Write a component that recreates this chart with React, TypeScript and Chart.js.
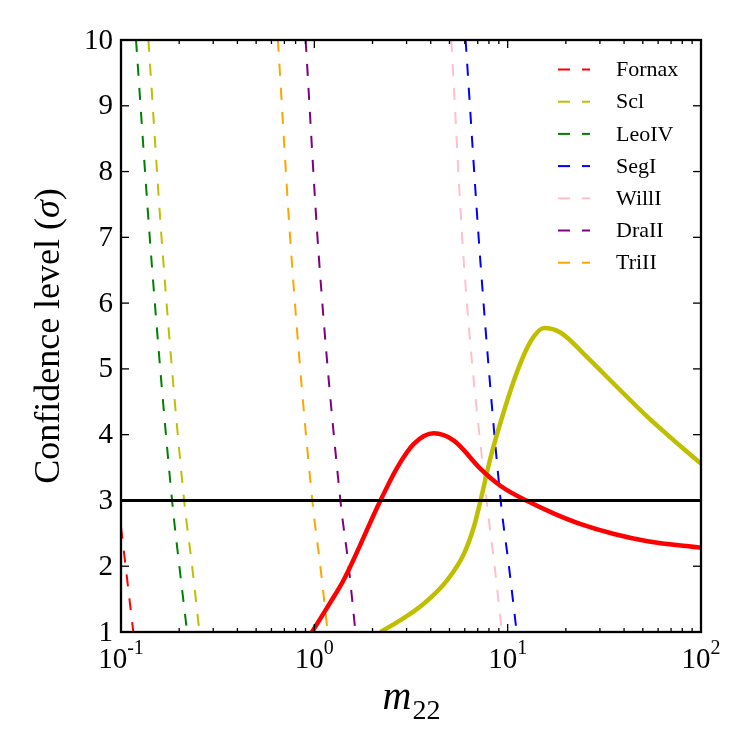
import { useEffect, useRef } from "react";
import { Chart, registerables } from "chart.js";

Chart.register(...registerables);

// Dashed bounds: m22 at which each galaxy reaches a given confidence level (sigma)
const fornaxDashX = [0.1, 0.1158];
const fornaxDashY = [2.6, 1.0];
const sclDashX = [0.1386, 0.1645, 0.2121, 0.2333, 0.2545];
const sclDashY = [10, 6.74, 3, 2, 1];
const leoIVDashX = [0.1196, 0.143, 0.1837, 0.2004, 0.2198];
const leoIVDashY = [10, 6.74, 3, 2, 1];
const segIDashX = [6.06, 7.24, 9.2, 10.15, 11.13];
const segIDashY = [10, 6.6, 3, 2, 1];
const willIDashX = [5.11, 5.94, 7.78, 8.56, 9.34];
const willIDashY = [10, 6.6, 3, 2, 1];
const draIIDashX = [0.9015, 1.053, 1.364, 1.505, 1.632];
const draIIDashY = [10, 6.74, 3, 2, 1];
const triIIDashX = [0.648, 0.76, 0.976, 1.074, 1.172];
const triIIDashY = [10, 6.74, 3, 2, 1];

// Solid curves for Fornax and Sculptor
const fornaxX = [0.973, 1.21, 1.418, 2.198, 2.683, 3.27, 4.15, 5.27, 7.24, 9.2, 12.65, 17.38, 23.9, 35.5, 52.9, 100];
const fornaxY = [1.0, 1.45, 1.79, 3.0, 3.5, 3.86, 4.02, 3.91, 3.48, 3.22, 2.99, 2.8, 2.64, 2.49, 2.38, 2.28];
const sclX = [2.198, 2.79, 3.68, 4.87, 5.94, 6.69, 7.24, 8.17, 9.57, 11.23, 13.16, 15.42, 18.82, 25.9, 35.5, 52.9, 78.7, 100];
const sclY = [1.0, 1.18, 1.43, 1.79, 2.19, 2.6, 3.0, 3.66, 4.36, 4.97, 5.42, 5.62, 5.55, 5.17, 4.77, 4.27, 3.82, 3.56];

// 3-sigma reference line
const thresholdX = [0.1, 100];
const thresholdY = [3, 3];

const xMajorTicks = [0.1, 1, 10, 100];
const xTickExponents = ["-1", "0", "1", "2"];
const yTicks = [1, 2, 3, 4, 5, 6, 7, 8, 9, 10];

const SERIF = '"Liberation Serif", "Times New Roman", serif';

const pts = (xs: number[], ys: number[]) => xs.map((x, i) => ({ x, y: ys[i] }));

const dashed = (label: string, color: string, xs: number[], ys: number[]) => ({
  label,
  data: pts(xs, ys),
  borderColor: color,
  borderWidth: 2,
  borderDash: [12, 12],
  pointRadius: 0,
  cubicInterpolationMode: "monotone" as const,
  order: 3,
});

const solid = (color: string, xs: number[], ys: number[], width: number, order: number) => ({
  label: "",
  data: pts(xs, ys),
  borderColor: color,
  borderWidth: width,
  pointRadius: 0,
  cubicInterpolationMode: "monotone" as const,
  order,
});

// Frame, inward ticks, tick labels, axis titles and legend
const framePlugin = {
  id: "frame",
  afterDatasetsDraw(chart: any) {
    const { ctx, chartArea: a, scales } = chart;
    const xs = scales.x;
    const ys = scales.y;
    ctx.save();
    ctx.strokeStyle = "#000";
    ctx.fillStyle = "#000";

    // ticks
    ctx.lineWidth = 1.3;
    const majorLen = 8;
    const minorLen = 4;
    const tick = (x1: number, y1: number, x2: number, y2: number) => {
      ctx.beginPath();
      ctx.moveTo(x1, y1);
      ctx.lineTo(x2, y2);
      ctx.stroke();
    };
    for (let e = -1; e <= 2; e++) {
      for (let m = 1; m <= 9; m++) {
        const v = m * Math.pow(10, e);
        if (v < 0.1 - 1e-9 || v > 100 + 1e-9) continue;
        const px = xs.getPixelForValue(v);
        const len = m === 1 ? majorLen : minorLen;
        tick(px, a.bottom, px, a.bottom - len);
        tick(px, a.top, px, a.top + len);
      }
    }
    for (const v of yTicks) {
      const py = ys.getPixelForValue(v);
      tick(a.left, py, a.left + majorLen, py);
      tick(a.right, py, a.right - majorLen, py);
    }

    // spines
    ctx.lineWidth = 2.3;
    ctx.strokeRect(a.left, a.top, a.right - a.left, a.bottom - a.top);

    // y tick labels
    ctx.font = `29px ${SERIF}`;
    ctx.textAlign = "right";
    ctx.textBaseline = "middle";
    for (const v of yTicks) {
      ctx.fillText(String(v), a.left - 8, ys.getPixelForValue(v) + 1);
    }

    // x tick labels as powers of ten
    ctx.textBaseline = "alphabetic";
    ctx.textAlign = "left";
    xMajorTicks.forEach((v, i) => {
      const px = xs.getPixelForValue(v);
      ctx.font = `29px ${SERIF}`;
      const wBase = ctx.measureText("10").width;
      ctx.font = `20px ${SERIF}`;
      const wExp = ctx.measureText(xTickExponents[i]).width;
      const start = px - (wBase + wExp) / 2;
      ctx.font = `29px ${SERIF}`;
      ctx.fillText("10", start, a.bottom + 36);
      ctx.font = `20px ${SERIF}`;
      ctx.fillText(xTickExponents[i], start + wBase, a.bottom + 22);
    });

    // x axis title: m_22
    {
      ctx.font = `italic 40px ${SERIF}`;
      const wm = ctx.measureText("m").width;
      ctx.font = `28px ${SERIF}`;
      const ws = ctx.measureText("22").width;
      const cx = (a.left + a.right) / 2;
      const start = cx - (wm + ws) / 2;
      ctx.font = `italic 40px ${SERIF}`;
      ctx.fillText("m", start, a.bottom + 77);
      ctx.font = `28px ${SERIF}`;
      ctx.fillText("22", start + wm + 1, a.bottom + 87);
    }

    // y axis title: Confidence level (sigma)
    {
      ctx.save();
      const cy = (a.top + a.bottom) / 2;
      ctx.translate(50, cy);
      ctx.rotate(-Math.PI / 2);
      const parts = [
        { t: "Confidence level ", f: `36px ${SERIF}` },
        { t: "(", f: `36px ${SERIF}` },
        { t: "\u03C3", f: `italic 36px ${SERIF}` },
        { t: ")", f: `36px ${SERIF}` },
      ];
      let total = 0;
      for (const p of parts) {
        ctx.font = p.f;
        total += ctx.measureText(p.t).width;
      }
      let x = -total / 2;
      ctx.textBaseline = "middle";
      for (const p of parts) {
        ctx.font = p.f;
        ctx.fillText(p.t, x, 0);
        x += ctx.measureText(p.t).width;
      }
      ctx.restore();
    }

    // legend for the dashed bounds
    const entries = chart.data.datasets.filter((d: any) => d.borderDash && d.label);
    ctx.font = `22px ${SERIF}`;
    ctx.textAlign = "left";
    ctx.textBaseline = "middle";
    entries.forEach((d: any, i: number) => {
      const y = a.top + 29.5 + i * 32.2;
      ctx.strokeStyle = d.borderColor;
      ctx.lineWidth = 2;
      ctx.setLineDash([12, 12]);
      ctx.beginPath();
      ctx.moveTo(a.left + 437, y);
      ctx.lineTo(a.left + 469, y);
      ctx.stroke();
      ctx.setLineDash([]);
      ctx.fillStyle = "#000";
      ctx.fillText(d.label, a.left + 495, y + 1);
    });

    ctx.restore();
  },
};

export default function App() {
  const ref = useRef<HTMLCanvasElement | null>(null);

  useEffect(() => {
    if (!ref.current) return;
    const chart = new Chart(ref.current, {
      type: "line",
      data: {
        datasets: [
          solid("#000000", thresholdX, thresholdY, 3, 0),
          solid("#ff0000", fornaxX, fornaxY, 4.5, 1),
          solid("#bfbf00", sclX, sclY, 4.5, 1),
          dashed("Fornax", "#ff0000", fornaxDashX, fornaxDashY),
          dashed("Scl", "#bfbf00", sclDashX, sclDashY),
          dashed("LeoIV", "#008000", leoIVDashX, leoIVDashY),
          dashed("SegI", "#0000ff", segIDashX, segIDashY),
          dashed("WillI", "#ffc0cb", willIDashX, willIDashY),
          dashed("DraII", "#800080", draIIDashX, draIIDashY),
          dashed("TriII", "#ffa500", triIIDashX, triIIDashY),
        ],
      },
      options: {
        animation: false,
        responsive: false,
        devicePixelRatio: 1,
        layout: { padding: { left: 121, right: 49, top: 40, bottom: 118 } },
        plugins: { legend: { display: false }, tooltip: { enabled: false } },
        scales: {
          x: { type: "logarithmic", min: 0.1, max: 100, display: false },
          y: { type: "linear", min: 1, max: 10, display: false },
        },
      },
      plugins: [framePlugin],
    });
    return () => chart.destroy();
  }, []);

  return (
    <div style={{ position: "absolute", left: 0, top: 0, width: 750, height: 750, background: "#fff" }}>
      <canvas ref={ref} width={750} height={750} />
    </div>
  );
}
